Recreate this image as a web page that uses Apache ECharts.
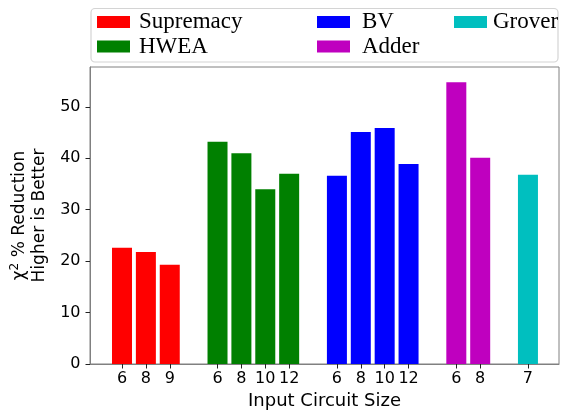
<!DOCTYPE html>
<html>
<head>
<meta charset="utf-8">
<style>
  html, body { margin: 0; padding: 0; background: #ffffff; }
  #chart { width: 567px; height: 415px; }
</style>
<script src="https://cdn.jsdelivr.net/npm/echarts@6/dist/echarts.min.js"></script>
</head>
<body>
<div id="chart"></div>
<script>
// Benchmark families, their input circuit sizes and the chi-square reduction (%)
const groupNames = ['Supremacy', 'HWEA', 'BV', 'Adder', 'Grover'];
const groupColors = ['#ff0000', '#008000', '#0000ff', '#bf00bf', '#00bfbf'];

const supremacySizes = ['6', '8', '9'];
const supremacyValues = [22.6, 21.8, 19.3];

const hweaSizes = ['6', '8', '10', '12'];
const hweaValues = [43.2, 41.0, 34.0, 37.0];

const bvSizes = ['6', '8', '10', '12'];
const bvValues = [36.6, 45.1, 45.9, 38.9];

const adderSizes = ['6', '8'];
const adderValues = [54.8, 40.1];

const groverSizes = ['7'];
const groverValues = [36.8];

const yTickValues = [0, 10, 20, 30, 40, 50];

const groupSizes = [supremacySizes, hweaSizes, bvSizes, adderSizes, groverSizes];
const groupValues = [supremacyValues, hweaValues, bvValues, adderValues, groverValues];

// Lay bars out in consecutive slots, leaving one empty slot between families
const tickPositions = [];
const tickLabels = {};
const seriesData = [];
let slot = 0;
groupSizes.forEach(function (sizes, g) {
  const data = [];
  sizes.forEach(function (s, i) {
    data.push([slot, groupValues[g][i]]);
    tickPositions.push(slot);
    tickLabels[slot] = s;
    slot += 1;
  });
  seriesData.push(data);
  slot += 1;
});
const lastSlot = slot - 2;

const sansFont = 'DejaVu Sans';
const serifFont = 'Liberation Serif';

const chart = echarts.init(document.getElementById('chart'), null, { renderer: 'canvas' });

const series = groupNames.map(function (name, g) {
  return {
    name: name,
    type: 'bar',
    data: seriesData[g],
    barWidth: 20,
    barGap: '-100%',
    itemStyle: { color: groupColors[g] },
    animation: false
  };
});

function legendBlock(names, left, lineHeight, textPad) {
  return {
    data: names,
    orient: 'vertical',
    left: left,
    top: 10,
    padding: 0,
    itemGap: 0.5,
    itemWidth: 33,
    itemHeight: 12,
    icon: 'rect',
    selectedMode: false,
    textStyle: {
      fontFamily: serifFont,
      fontSize: 23,
      color: '#000',
      lineHeight: lineHeight,
      padding: textPad
    }
  };
}

chart.setOption({
  animation: false,
  backgroundColor: '#ffffff',
  graphic: [{
    type: 'rect',
    z: 0,
    shape: { x: 91, y: 8.5, width: 467, height: 53.5, r: 4 },
    style: { fill: '#ffffff', stroke: '#d4d4d4', lineWidth: 1.2 }
  }],
  legend: [
    legendBlock(['Supremacy', 'HWEA'], 97, 24, [0, 0, 0, 4]),
    legendBlock(['BV', 'Adder'], 317, 20, [0, 0, 4, 7]),
    legendBlock(['Grover'], 454, 20, [0, 0, 4, 1])
  ],
  grid: {
    left: 90,
    right: 8,
    top: 67,
    bottom: 50,
    show: true,
    borderColor: '#808080',
    borderWidth: 1,
    containLabel: false
  },
  xAxis: {
    type: 'value',
    min: -1.34,
    max: lastSlot + 1.30,
    name: 'Input Circuit Size',
    nameLocation: 'middle',
    nameGap: 28,
    nameTextStyle: { fontFamily: sansFont, fontSize: 18, color: '#000' },
    splitLine: { show: false },
    axisLine: { show: true, onZero: false, lineStyle: { color: '#808080', width: 1 } },
    axisTick: {
      show: true,
      length: 4.5,
      customValues: tickPositions,
      lineStyle: { color: '#222', width: 1 }
    },
    axisLabel: {
      customValues: tickPositions,
      margin: 6.5,
      fontFamily: sansFont,
      fontSize: 16,
      color: '#000',
      formatter: function (v) { return tickLabels[Math.round(v)] || ''; }
    }
  },
  yAxis: {
    type: 'value',
    min: 0,
    max: 57.75,
    name: '{t|χ}{sup|2}{t| % Reduction}\n{t|Higher is Better}',
    nameLocation: 'middle',
    nameRotate: 90,
    nameGap: 35,
    nameTextStyle: {
      fontFamily: sansFont,
      fontSize: 17,
      color: '#000',
      lineHeight: 20,
      rich: {
        t: { fontFamily: sansFont, fontSize: 17, color: '#000', lineHeight: 20 },
        sup: { fontFamily: sansFont, fontSize: 12, color: '#000', lineHeight: 20, padding: [0, 0, 9, 0] }
      }
    },
    splitLine: { show: false },
    axisLine: { show: true, onZero: false, lineStyle: { color: '#808080', width: 1 } },
    axisTick: {
      show: true,
      length: 4.5,
      customValues: yTickValues,
      lineStyle: { color: '#222', width: 1 }
    },
    axisLabel: {
      customValues: yTickValues,
      margin: 9.5,
      fontFamily: sansFont,
      fontSize: 16,
      color: '#000'
    }
  },
  series: series
});
</script>
</body>
</html>
